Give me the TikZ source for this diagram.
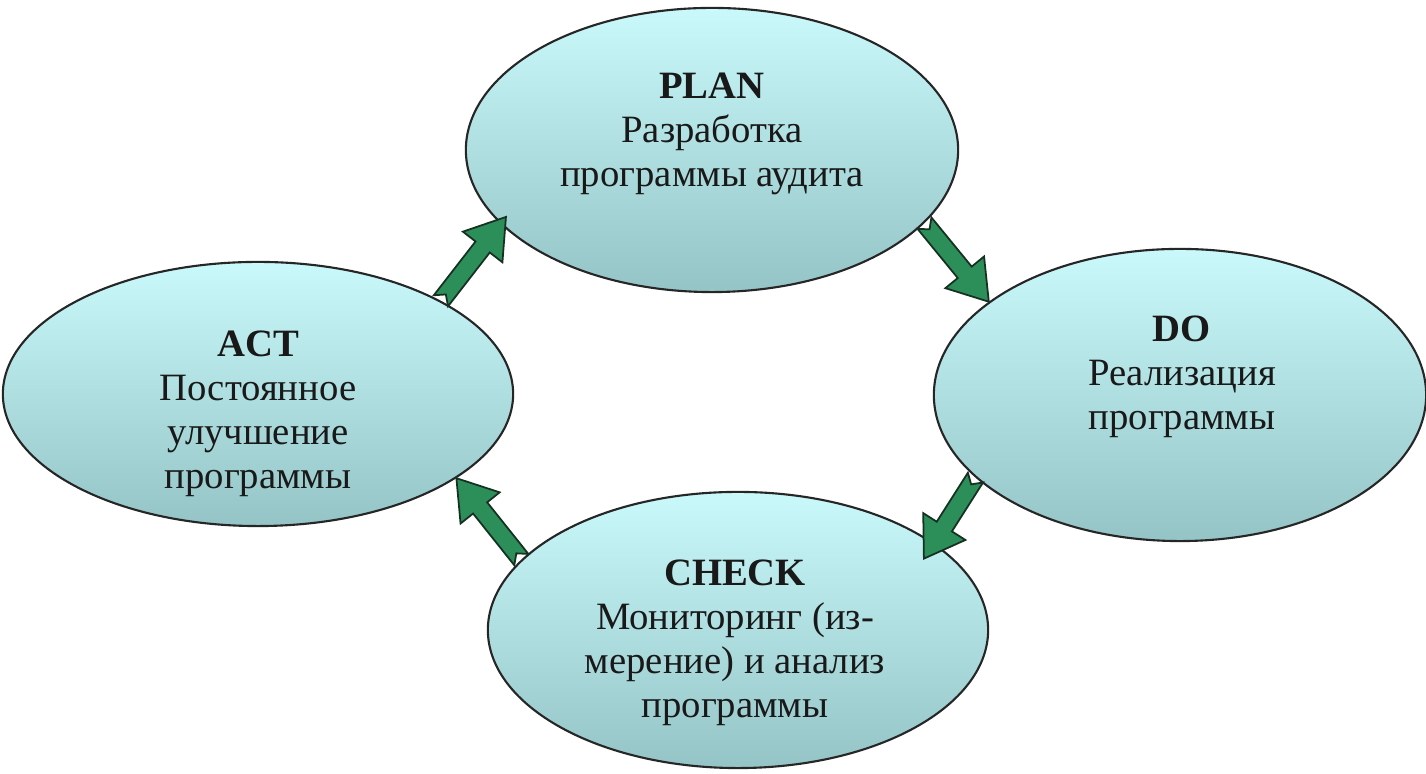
\documentclass[tikz,border=0pt]{standalone}
\usepackage{fontspec}
\setmainfont{Liberation Serif}
\usepackage{tikz}
\usetikzlibrary{shapes.geometric}
\usetikzlibrary{calc}
\definecolor{lightcyan}{RGB}{202,249,251}
\definecolor{greycyan}{RGB}{148,196,198}
\definecolor{arrowgreen}{RGB}{44,142,88}
\definecolor{arrowedge}{RGB}{22,48,34}
\tikzset{
  stage/.style={ellipse,draw=black!85,line width=0.6pt,top color=lightcyan,bottom color=greycyan,inner sep=0pt},
  stagetext/.style={align=center,text=black!90,font=\fontsize{11}{12.5}\selectfont},
  blockarrow/.style={draw=arrowedge,fill=arrowgreen,line width=0.5pt,line join=miter}
}
\newcommand{\drawblockarrow}[2]{
  \coordinate (q) at ($(#2)!0.38cm!(#1)$);
  \draw[blockarrow] ($(#1)!0.09cm!90:(#2)$) -- ($(q)!0.09cm!-90:(#1)$) -- ($(q)!0.25cm!-90:(#1)$) -- (#2)
    -- ($(q)!0.25cm!90:(#1)$) -- ($(q)!0.09cm!90:(#1)$) -- ($(#1)!0.09cm!-90:(#2)$) -- ($(#1)!0.08cm!(#2)$) -- cycle;
}
\begin{document}
\begin{tikzpicture}[x=0.01cm,y=-0.01cm]
      \useasboundingbox (0,0) rectangle (1426,774);
      \node[stage,minimum width=4.92cm,minimum height=2.84cm] (plan) at (712,150) {};
      \node[stage,minimum width=4.92cm,minimum height=2.92cm] (do) at (1180,395) {};
      \node[stage,minimum width=5.10cm,minimum height=2.64cm] (act) at (258,394) {};
      \node[stage,minimum width=5.00cm,minimum height=2.76cm] (check) at (738,630) {};
      \node[stagetext] (plantext) at (712,134) {\textbf{PLAN}\\Разработка\\программы аудита};
      \node[stagetext] (dotext) at (1182,377) {\textbf{DO}\\Реализация\\программы};
      \node[stagetext] (acttext) at (258,414) {\textbf{ACT}\\Постоянное\\улучшение\\программы};
      \node[stagetext] (checktext) at (735,643) {\textbf{CHECK}\\Мониторинг (из-\\мерение) и анализ\\программы};
      \coordinate (plantip) at ($(plan.198)!0.1cm!(plan.center)$);
      \coordinate (checktip) at ($(check.21)!0.22cm!(check.center)$);
      \drawblockarrow{act.27}{plantip}
      \drawblockarrow{plan.341}{do.154}
      \drawblockarrow{do.202}{checktip}
      \drawblockarrow{check.162}{act.337}
    \end{tikzpicture}
\end{document}
